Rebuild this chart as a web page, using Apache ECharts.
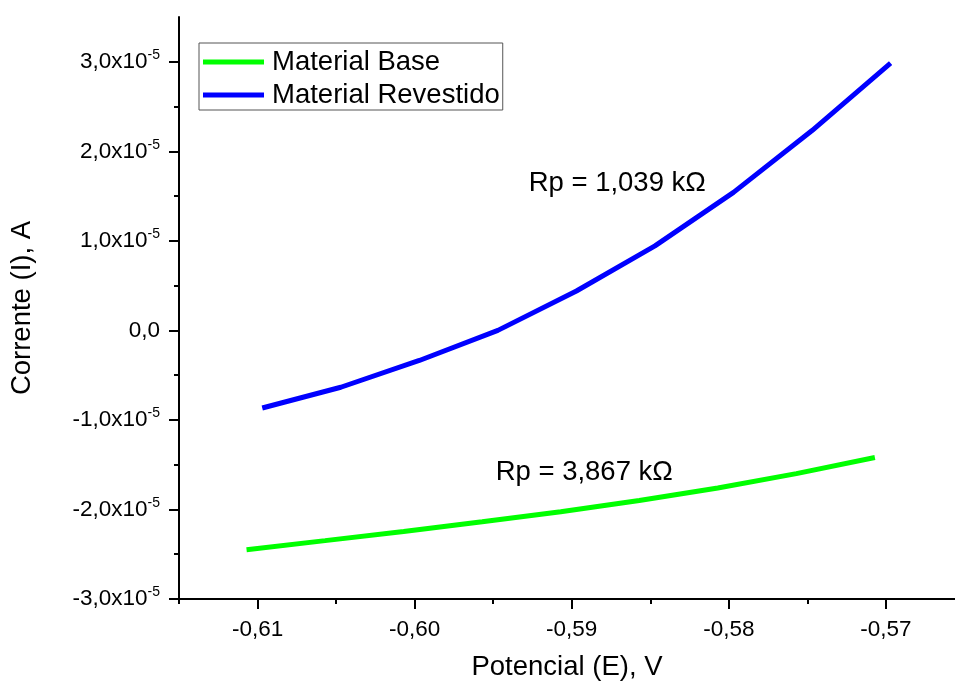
<!DOCTYPE html>
<html>
<head>
<meta charset="utf-8">
<script src="https://cdn.jsdelivr.net/npm/echarts@6/dist/echarts.min.js"></script>
<style>
  html, body { margin: 0; padding: 0; background: #fff; }
  #chart { width: 955px; height: 684px; }
</style>
</head>
<body>
<div id="chart"></div>
<script>
// Polarização linear: corrente x potencial
const seriesNames = ['Material Base', 'Material Revestido'];

// Material Base (V, A)
const baseE = [-0.6107, -0.6057, -0.6007, -0.5957, -0.5907, -0.5857, -0.5807, -0.5757, -0.5707];
const baseI = [-2.449e-5, -2.348e-5, -2.245e-5, -2.138e-5, -2.025e-5, -1.900e-5, -1.760e-5, -1.600e-5, -1.419e-5];

// Material Revestido (V, A)
const revE = [-0.6097, -0.6047, -0.5997, -0.5947, -0.5897, -0.5847, -0.5797, -0.5747, -0.5697];
const revI = [-0.867e-5, -0.635e-5, -0.336e-5, 0.0, 0.440e-5, 0.944e-5, 1.541e-5, 2.232e-5, 2.985e-5];

// Rótulos de resistência de polarização
const rpLabels = ['Rp = 3,867 k\u03A9', 'Rp = 1,039 k\u03A9'];
const rpE = [-0.5892, -0.5871];
const rpI = [-1.587e-5, 1.638e-5];

// Marcas dos eixos
const xMajorTicks = [-0.61, -0.60, -0.59, -0.58, -0.57];
const xMinorTicks = [-0.615, -0.605, -0.595, -0.585, -0.575, -0.565];
const yMajorTicks = [-3e-5, -2e-5, -1e-5, 0, 1e-5, 2e-5, 3e-5];
const yMinorTicks = [-2.5e-5, -1.5e-5, -0.5e-5, 0.5e-5, 1.5e-5, 2.5e-5];

const colors = ['#00ff00', '#0000ff'];
const FONT = 'Liberation Sans, Arial, sans-serif';
const BIG = 27.5;
const TICK = 22.5;

function pairs(xs, ys) { return xs.map((x, i) => [x, ys[i]]); }

function xLabel(v) {
  return v.toFixed(2).replace('.', ',');
}
function yLabel(v) {
  const n = Math.round(v * 1e5);
  if (n === 0) return '{m|0,0}';
  return '{m|' + n + ',0x10}{s|-5}';
}

const chart = echarts.init(document.getElementById('chart'), null, { renderer: 'canvas' });

const xRange = { min: -0.615, max: -0.5656 };
const yRange = { min: -3e-5, max: 3.5e-5 };
const axisLine = { show: true, onZero: false, lineStyle: { color: '#000', width: 2 } };
const hiddenLine = { show: false, onZero: false };

chart.setOption({
  animation: false,
  backgroundColor: '#fff',
  textStyle: { fontFamily: FONT },
  grid: { left: 179, right: 0, top: 17, bottom: 85, containLabel: false, outerBoundsMode: 'none' },
  legend: {
    data: seriesNames.map(n => ({ name: n, icon: 'rect' })),
    orient: 'vertical',
    left: 199,
    top: 43,
    itemWidth: 61,
    itemHeight: 5,
    itemGap: 3,
    padding: [4, 3, 0, 4],
    borderColor: '#555',
    borderWidth: 1,
    textStyle: { fontFamily: FONT, fontSize: BIG, color: '#000', lineHeight: 30, padding: [0, 0, 0, 3] }
  },
  xAxis: [
    {
      type: 'value', position: 'bottom', ...xRange,
      name: 'Potencial (E), V', nameLocation: 'middle', nameGap: 54,
      nameTextStyle: { fontFamily: FONT, fontSize: BIG, color: '#000' },
      axisLine,
      splitLine: { show: false },
      axisTick: { show: true, length: 10, lineStyle: { color: '#000', width: 2 }, customValues: xMajorTicks },
      axisLabel: { show: true, margin: 19, fontFamily: FONT, fontSize: TICK, color: '#000', customValues: xMajorTicks, formatter: xLabel }
    },
    {
      type: 'value', position: 'bottom', ...xRange,
      axisLine: hiddenLine,
      splitLine: { show: false },
      axisTick: { show: true, length: 5, lineStyle: { color: '#000', width: 2 }, customValues: xMinorTicks },
      axisLabel: { show: false }
    }
  ],
  yAxis: [
    {
      type: 'value', position: 'left', ...yRange,
      name: 'Corrente (I), A', nameLocation: 'middle', nameGap: 143, nameRotate: 90,
      nameTextStyle: { fontFamily: FONT, fontSize: BIG, color: '#000' },
      axisLine,
      splitLine: { show: false },
      axisTick: { show: true, length: 10, lineStyle: { color: '#000', width: 2 }, customValues: yMajorTicks },
      axisLabel: {
        show: true, margin: 19, color: '#000', customValues: yMajorTicks, formatter: yLabel,
        rich: {
          m: { fontFamily: FONT, fontSize: TICK, lineHeight: 27, color: '#000' },
          s: { fontFamily: FONT, fontSize: 14, lineHeight: 14, verticalAlign: 'top', color: '#000' }
        }
      }
    },
    {
      type: 'value', position: 'left', ...yRange,
      axisLine: hiddenLine,
      splitLine: { show: false },
      axisTick: { show: true, length: 5, lineStyle: { color: '#000', width: 2 }, customValues: yMinorTicks },
      axisLabel: { show: false }
    }
  ],
  series: [
    {
      name: seriesNames[0], type: 'line', xAxisIndex: 0, yAxisIndex: 0,
      data: pairs(baseE, baseI), symbol: 'none', smooth: false,
      lineStyle: { color: colors[0], width: 5 }, itemStyle: { color: colors[0] },
      markPoint: {
        symbol: 'circle', symbolSize: 1, itemStyle: { color: 'rgba(0,0,0,0)' },
        label: { show: true, position: 'inside', fontFamily: FONT, fontSize: BIG, color: '#000', formatter: p => p.name },
        data: [{ name: rpLabels[0], coord: [rpE[0], rpI[0]] }]
      }
    },
    {
      name: seriesNames[1], type: 'line', xAxisIndex: 0, yAxisIndex: 0,
      data: pairs(revE, revI), symbol: 'none', smooth: false,
      lineStyle: { color: colors[1], width: 5 }, itemStyle: { color: colors[1] },
      markPoint: {
        symbol: 'circle', symbolSize: 1, itemStyle: { color: 'rgba(0,0,0,0)' },
        label: { show: true, position: 'inside', fontFamily: FONT, fontSize: BIG, color: '#000', formatter: p => p.name },
        data: [{ name: rpLabels[1], coord: [rpE[1], rpI[1]] }]
      }
    }
  ]
});
</script>
</body>
</html>
